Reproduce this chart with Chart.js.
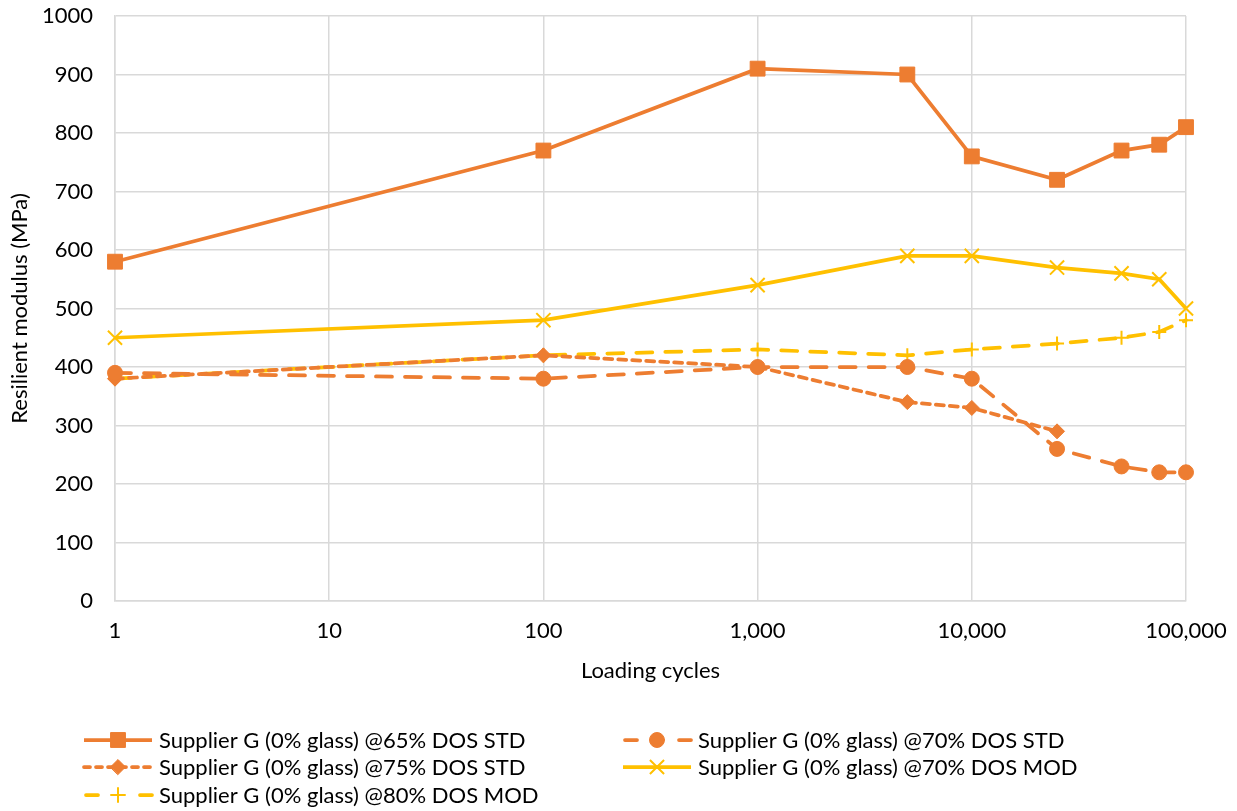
<!DOCTYPE html>
<html>
<head>
<meta charset="utf-8">
<script src="https://cdn.jsdelivr.net/npm/chart.js@4.4.1/dist/chart.umd.min.js"></script>
<style>
  html, body { margin: 0; padding: 0; background: #fff; }
  #wrap { width: 1237px; height: 811px; position: relative; }
</style>
</head>
<body>
<div id="wrap"><canvas id="c" width="1237" height="811"></canvas></div>
<script>
const cycles = [1, 100, 1000, 5000, 10000, 25000, 50000, 75000, 100000];
const std65 = [580, 770, 910, 900, 760, 720, 770, 780, 810];
const std70 = [390, 380, 400, 400, 380, 260, 230, 220, 220];
const std75 = [380, 420, 400, 340, 330, 290, null, null, null];
const mod70 = [450, 480, 540, 590, 590, 570, 560, 550, 500];
const mod80 = [380, 420, 430, 420, 430, 440, 450, 460, 480];
const xTicks = [1, 10, 100, 1000, 10000, 100000];
const yTicks = [0, 100, 200, 300, 400, 500, 600, 700, 800, 900, 1000];
const labels = [
  'Supplier G (0% glass) @65% DOS STD',
  'Supplier G (0% glass) @70% DOS STD',
  'Supplier G (0% glass) @75% DOS STD',
  'Supplier G (0% glass) @70% DOS MOD',
  'Supplier G (0% glass) @80% DOS MOD'
];

const ORANGE = '#ED7D31', YELLOW = '#FFC000';
const FONT = 'Lato';
const FS = 22;

function pts(vals) {
  const out = [];
  cycles.forEach((c, i) => { if (vals[i] !== null) out.push({x: c, y: vals[i]}); });
  return out;
}

const datasets = [
  {label: labels[0], data: pts(std65), borderColor: ORANGE, backgroundColor: ORANGE, borderWidth: 3.75,
   pointStyle: 'rect', pointRadius: 10.5, borderDash: [], order: 1},
  {label: labels[1], data: pts(std70), borderColor: ORANGE, backgroundColor: ORANGE, borderWidth: 3.75,
   pointStyle: 'circle', pointRadius: 7.5, borderDash: [16, 13], borderCapStyle: 'round', order: 2},
  {label: labels[2], data: pts(std75), borderColor: ORANGE, backgroundColor: ORANGE, borderWidth: 3.75,
   pointStyle: 'rectRot', pointRadius: 7.5, borderDash: [8, 6], borderCapStyle: 'round', order: 3},
  {label: labels[3], data: pts(mod70), borderColor: YELLOW, backgroundColor: YELLOW, borderWidth: 3.75,
   pointStyle: 'crossRot', pointRadius: 10, pointBorderWidth: 2, borderDash: [], order: 4},
  {label: labels[4], data: pts(mod80), borderColor: YELLOW, backgroundColor: YELLOW, borderWidth: 3.75,
   pointStyle: 'cross', pointRadius: 7, pointBorderWidth: 2, borderDash: [16, 13], borderCapStyle: 'round', order: 5}
];
datasets.forEach(d => { d.pointBorderColor = d.borderColor; d.pointBackgroundColor = d.backgroundColor;
  if (d.pointBorderWidth === undefined) d.pointBorderWidth = 1; d.tension = 0; d.fill = false; d.clip = false; });

const legendPlugin = {
  id: 'excelLegend',
  afterDraw(chart) {
    const ctx = chart.ctx;
    const pos = [[84, 740], [623, 740], [84, 767], [623, 767], [84, 795]];
    chart.data.datasets.forEach((ds, i) => {
      const [x, y] = pos[i];
      ctx.save();
      ctx.strokeStyle = ds.borderColor;
      ctx.lineWidth = ds.borderWidth;
      ctx.lineCap = ds.borderDash.length ? 'round' : 'butt';
      ctx.setLineDash(ds.borderDash.length ? (i === 2 ? [6, 6] : [12, 15]) : []);
      ctx.beginPath();
      if (ds.borderDash.length && i !== 2) {
        ctx.moveTo(x + 2, y); ctx.lineTo(x + 14, y);
        ctx.moveTo(x + 56, y); ctx.lineTo(x + 68, y);
      } else {
        ctx.moveTo(x, y); ctx.lineTo(x + 68, y);
      }
      ctx.stroke();
      ctx.setLineDash([]);
      ctx.fillStyle = ds.backgroundColor;
      ctx.lineWidth = ds.pointBorderWidth;
      Chart.helpers.drawPoint(ctx, {pointStyle: ds.pointStyle, radius: ds.pointRadius, rotation: 0,
        borderWidth: ds.pointBorderWidth}, x + 34, y);
      ctx.fillStyle = '#000';
      ctx.font = FS + 'px ' + FONT;
      ctx.textBaseline = 'middle';
      ctx.fillText(ds.label, x + 75, y + 1);
      ctx.restore();
    });
  }
};

new Chart(document.getElementById('c'), {
  type: 'line',
  data: {datasets},
  plugins: [legendPlugin],
  options: {
    responsive: false,
    animation: false,
    layout: {padding: {left: 0, right: 51, top: 16, bottom: 120}},
    plugins: {legend: {display: false}, tooltip: {enabled: false}},
    scales: {
      x: {
        type: 'logarithmic', min: 1, max: 100000,
        afterBuildTicks: s => { s.ticks = xTicks.map(v => ({value: v})); },
        afterFit: s => { s.height = 90; s.paddingLeft = 0; s.paddingRight = 0; },
        ticks: {color: '#000', font: {family: FONT, size: FS}, padding: 17,
          callback: v => Number(v).toLocaleString('en-US'), maxRotation: 0, autoSkip: false},
        grid: {color: '#D9D9D9', lineWidth: 1.5, drawTicks: false},
        border: {color: '#D9D9D9', width: 1.5},
        title: {display: true, text: 'Loading cycles', color: '#000', font: {family: FONT, size: FS}, padding: {top: 0, bottom: 7}}
      },
      y: {
        min: 0, max: 1000,
        afterBuildTicks: s => { s.ticks = yTicks.map(v => ({value: v})); },
        afterFit: s => { s.width = 115; s.paddingTop = 0; s.paddingBottom = 0; },
        ticks: {color: '#000', font: {family: FONT, size: FS}, padding: 22, callback: v => String(v)},
        grid: {color: '#D9D9D9', lineWidth: 1.5, drawTicks: false},
        border: {color: '#D9D9D9', width: 1.5},
        title: {display: true, text: 'Resilient modulus (MPa)', color: '#000', font: {family: FONT, size: FS}, padding: {top: 7, bottom: 0}}
      }
    }
  }
});
</script>
</body>
</html>
